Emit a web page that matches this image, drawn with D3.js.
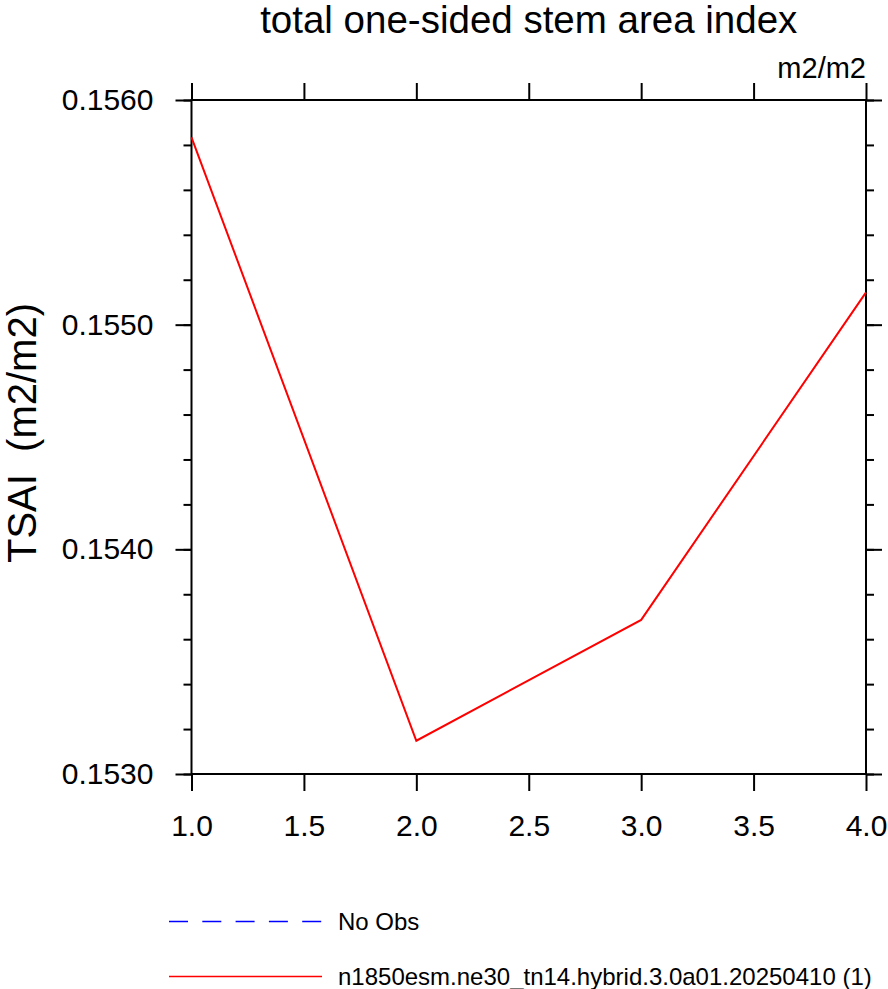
<!DOCTYPE html>
<html>
<head>
<meta charset="utf-8">
<script src="https://cdn.jsdelivr.net/npm/d3@7"></script>
<style>
  body { margin: 0; background: #fff; }
  svg { display: block; font-family: "Liberation Sans", Arial, Helvetica, sans-serif; }
</style>
</head>
<body>
<div id="chart"></div>
<script>
// chart data
const years = [1, 2, 3, 4];
const tsai = [0.155834, 0.153148, 0.153686, 0.155144];
const xTicks = [1.0, 1.5, 2.0, 2.5, 3.0, 3.5, 4.0];
const yTicks = [0.1530, 0.1540, 0.1550, 0.1560];
const yMinorTicks = d3.range(0, 16).map(i => 0.1530 + i * 0.0002);
const legendLabels = ["No Obs", "n1850esm.ne30_tn14.hybrid.3.0a01.20250410 (1)"];
const legendColors = ["#0000ff", "#ff0000"];

const width = 888, height = 989;
const margin = {top: 100, right: 22, bottom: 215, left: 191.5};
const innerW = width - margin.left - margin.right;
const innerH = height - margin.top - margin.bottom;

const svg = d3.select("#chart").append("svg")
    .attr("width", width)
    .attr("height", height);

const plot = svg.append("g")
    .attr("transform", "translate(" + margin.left + "," + margin.top + ")");

const x = d3.scaleLinear().domain([1, 4]).range([0, innerW]);
const y = d3.scaleLinear().domain([0.1530, 0.1560]).range([innerH, 0]);

// axes, ticks pointing outward on all four sides
function styleAxis(g) {
    g.select(".domain").remove();
    g.selectAll(".tick line").attr("stroke", "#000").attr("stroke-width", 2);
    g.selectAll(".tick text").attr("fill", "#000").style("font-size", "30px");
}

plot.append("g")
    .attr("transform", "translate(0," + innerH + ")")
    .call(d3.axisBottom(x).tickValues(xTicks).tickSize(17).tickPadding(24).tickFormat(d3.format(".1f")))
    .call(styleAxis);

plot.append("g")
    .call(d3.axisTop(x).tickValues(xTicks).tickSize(17).tickFormat(""))
    .call(styleAxis);

plot.append("g")
    .call(d3.axisLeft(y).tickValues(yMinorTicks).tickSize(8).tickFormat(""))
    .call(styleAxis);
plot.append("g")
    .call(d3.axisLeft(y).tickValues(yTicks).tickSize(16).tickPadding(22).tickFormat(d3.format(".4f")))
    .call(styleAxis);

plot.append("g")
    .attr("transform", "translate(" + innerW + ",0)")
    .call(d3.axisRight(y).tickValues(yMinorTicks).tickSize(8).tickFormat(""))
    .call(styleAxis);
plot.append("g")
    .attr("transform", "translate(" + innerW + ",0)")
    .call(d3.axisRight(y).tickValues(yTicks).tickSize(16).tickFormat(""))
    .call(styleAxis);

// frame
plot.append("rect")
    .attr("width", innerW)
    .attr("height", innerH)
    .attr("fill", "none")
    .attr("stroke", "#000")
    .attr("stroke-width", 2);

// data line
const line = d3.line()
    .x((d, i) => x(years[i]))
    .y(d => y(d));

plot.append("path")
    .datum(tsai)
    .attr("d", line)
    .attr("fill", "none")
    .attr("stroke", "#ff0000")
    .attr("stroke-width", 2);

// labels
svg.append("text")
    .attr("x", margin.left + innerW / 2)
    .attr("y", 33)
    .style("text-anchor", "middle")
    .style("font-size", "38.5px")
    .text("total one-sided stem area index");

svg.append("text")
    .attr("x", margin.left + innerW)
    .attr("y", 78)
    .style("text-anchor", "end")
    .style("font-size", "29px")
    .text("m2/m2");

svg.append("text")
    .attr("transform", "rotate(-90)")
    .attr("x", -(margin.top + innerH / 2) + 4)
    .attr("y", 36)
    .style("text-anchor", "middle")
    .style("white-space", "pre")
    .style("font-size", "40px")
    .text("TSAI  (m2/m2)");

// legend
const legend = svg.append("g");
const legendY = d3.scalePoint().domain(legendLabels).range([921.5, 976.5]);

legend.selectAll("line")
    .data(legendLabels)
    .enter().append("line")
    .attr("x1", 169)
    .attr("x2", 322)
    .attr("y1", d => legendY(d))
    .attr("y2", d => legendY(d))
    .attr("stroke", (d, i) => legendColors[i])
    .attr("stroke-width", 1.6)
    .attr("stroke-dasharray", (d, i) => i === 0 ? "19,14.3" : null);

legend.selectAll("text")
    .data(legendLabels)
    .enter().append("text")
    .attr("x", 338)
    .attr("y", d => legendY(d))
    .attr("dy", "0.35em")
    .style("font-size", "24px")
    .text(d => d);
</script>
</body>
</html>
